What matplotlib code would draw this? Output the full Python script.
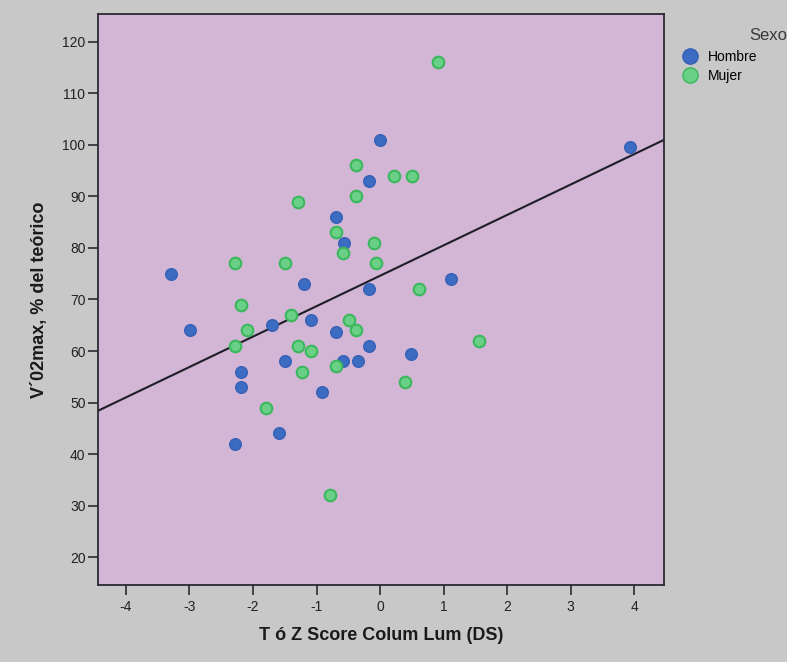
import numpy as np
import matplotlib
matplotlib.use("Agg")
import matplotlib.pyplot as plt
from matplotlib.lines import Line2D

# ==============================
# Datos
# ==============================
hombre_x = [0.0, -0.18, -0.69, -0.57, -3.29, -1.19, -0.18, 3.93, 1.11, -1.70,
            -1.09, -2.99, -0.69, -0.18, -1.49, -0.58, -0.34, -2.19, -2.19, -0.91,
            -1.59, -2.29, 0.48]
hombre_y = [101, 93, 86, 81, 75, 73, 72, 99.6, 74, 65,
            66, 64, 63.6, 61, 58, 58, 58, 56, 53, 52,
            44, 42, 59.5]

mujer_x = [-0.38, 0.22, 0.51, -0.38, -1.29, -0.69, -0.09, -0.58, -0.06, -2.29,
           -1.49, -2.19, 0.92, 0.62, -1.40, -0.49, -2.09, -0.38, -2.29, -1.29,
           -1.09, -0.69, -1.23, -1.79, -0.79, 1.56, 0.40]
mujer_y = [96, 94, 94, 90, 89, 83, 81, 79, 77, 77,
           77, 69, 116, 72, 67, 66, 64, 64, 61, 61,
           60, 57, 56, 49, 32, 62, 54]

# recta de ajuste total
ajuste_intercepto = 74.6
ajuste_pendiente = 5.9

x_ticks = [-4, -3, -2, -1, 0, 1, 2, 3, 4]
y_ticks = [20, 30, 40, 50, 60, 70, 80, 90, 100, 110, 120]

# ==============================
# Figura
# ==============================
plt.rcParams["font.family"] = ["Liberation Sans", "DejaVu Sans"]

fondo = "#c8c8c8"
fig = plt.figure(figsize=(7.87, 6.62), dpi=100, facecolor=fondo)
ax = fig.add_axes([0.1245, 0.1163, 0.7192, 0.8626])
ax.set_facecolor("#d3b5d5")

ax.scatter(hombre_x, hombre_y, s=70, color="#3b6cc2", edgecolors="#3560b5",
           linewidths=1, zorder=3)
ax.scatter(mujer_x, mujer_y, s=70, color="#6bd087", edgecolors="#3bb85c",
           linewidths=1.5, zorder=3)

xlim = (-4.44, 4.47)
xs = np.array(xlim)
ax.plot(xs, ajuste_intercepto + ajuste_pendiente * xs, color="#1e1e28",
        linewidth=1.5, zorder=2)

ax.set_xlim(*xlim)
ax.set_ylim(14.6, 125.4)
ax.set_xticks(x_ticks)
ax.set_xticklabels([str(v) for v in x_ticks])
ax.set_yticks(y_ticks)

for s in ax.spines.values():
    s.set_color("#2a2a33")
    s.set_linewidth(1.3)

ax.tick_params(axis="both", direction="out", length=7, width=1.2,
               color="#2a2a33", labelsize=10, labelcolor="#222222")
ax.tick_params(axis="x", pad=4)
ax.tick_params(axis="y", pad=2)

ax.set_xlabel("T ó Z Score Colum Lum (DS)", fontsize=13, fontweight="bold",
              color="#1a1a1a", labelpad=9)
ax.set_ylabel("V´02max, % del teórico", fontsize=13, fontweight="bold",
              color="#1a1a1a", labelpad=10)

# leyenda
fig.text(1.0, 0.947, "Sexo", fontsize=12, color="#3a3a3a", ha="right",
         va="center")
handles = [
    Line2D([], [], marker="o", linestyle="none", markersize=11,
           markerfacecolor="#3b6cc2", markeredgecolor="#3560b5"),
    Line2D([], [], marker="o", linestyle="none", markersize=11,
           markerfacecolor="#6bd087", markeredgecolor="#3bb85c"),
]
fig.legend(handles, ["Hombre", "Mujer"], loc="upper left",
           bbox_to_anchor=(0.866, 0.924), frameon=False, fontsize=10,
           handletextpad=0.7, labelspacing=0.35, handlelength=1.2,
           borderaxespad=0, borderpad=0)

fig.savefig("out.png", dpi=100, facecolor=fondo)
